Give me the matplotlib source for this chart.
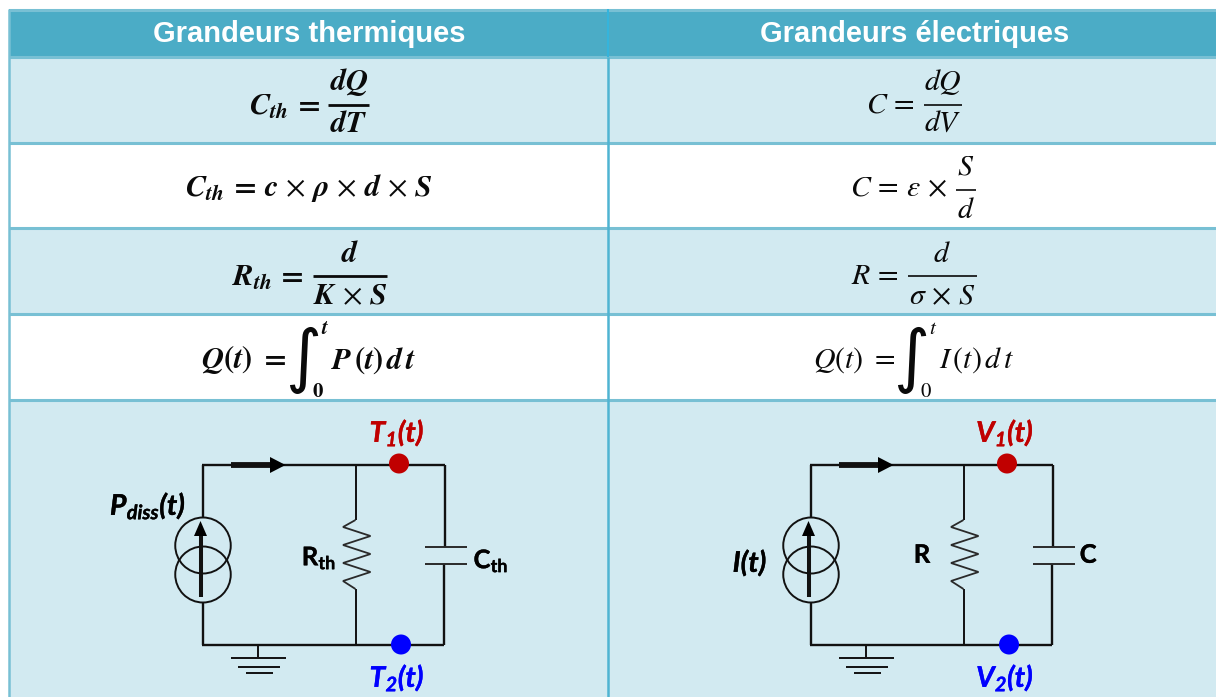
import matplotlib
matplotlib.use("Agg")
import matplotlib.pyplot as plt
import matplotlib.patheffects as pe
from matplotlib.patches import Rectangle, Ellipse, Polygon

plt.rcParams['mathtext.fontset'] = 'custom'
plt.rcParams['mathtext.bf'] = 'Lato:bold'
plt.rcParams['mathtext.bfit'] = 'Lato:italic:bold'
plt.rcParams['mathtext.it'] = 'Lato:italic:bold'
plt.rcParams['mathtext.rm'] = 'Lato:bold'

headers = ["Grandeurs thermiques", "Grandeurs électriques"]
# formula pieces: text, centre x, centre y
thermal_pieces = [
    (r"$\mathbfit{C_{th}}\,\mathbf{=}$", 284, 107),
    (r"$\mathbfit{dQ}$", 349, 82), (r"$\mathbfit{dT}$", 349, 123),
    (r"$\mathbfit{C_{th}}\,\mathbf{=}\,\mathbfit{c}\,\times\,\mathbfit{\rho}\,\times\,\mathbfit{d}\,\times\,\mathbfit{S}$", 309, 188),
    (r"$\mathbfit{R_{th}}\,\mathbf{=}$", 268, 278),
    (r"$\mathbfit{d}$", 350, 253), (r"$\mathbfit{K}\,\times\,\mathbfit{S}$", 350, 296),
    (r"$\mathbfit{Q}\mathbf{(}\mathbfit{t}\mathbf{)}\ \mathbf{=}$", 244, 360),
    (r"$\mathbfit{P}\,\mathbf{(}\mathbfit{t}\mathbf{)}\,\mathbfit{d}\,\mathbfit{t}$", 374, 360),
]
electric_pieces = [
    (r"$C\,=$", 890, 104),
    (r"$dQ$", 943, 82), (r"$dV$", 943, 122),
    (r"$C\,=\,\varepsilon\,\times$", 899, 188),
    (r"$S$", 966, 166), (r"$d$", 966, 210),
    (r"$R\,=$", 875, 276),
    (r"$d$", 942, 253), (r"$\sigma\,\times\,S$", 942, 296),
    (r"$Q(t)\ =$", 854, 360),
    (r"$I\,(t)\,d\,t$", 976, 360),
]
limit_pieces = [
    (r"$\mathbfit{t}$", 325, 328), (r"$\mathbf{0}$", 318, 391),
    (r"$t$", 933, 328), (r"$0$", 926, 391),
]
fraction_bars = [(328, 369, 105, 2.0), (313, 387, 276, 2.0),
                 (924, 962, 104.5, 1.2), (956, 976, 190, 1.2), (908, 977, 276, 1.2)]
integral_x = [303, 911]
row_edges = [57, 143, 228, 314, 400, 697]
row_fills = ['#D2EAF1', '#FFFFFF', '#D2EAF1', '#FFFFFF', '#D2EAF1']
col_edges = [9, 608, 1216]
circuit_offsets = [0, 608]
top_labels = [r"$\mathbfit{T_{1}(t)}$", r"$\mathbfit{V_{1}(t)}$"]
bottom_labels = [r"$\mathbfit{T_{2}(t)}$", r"$\mathbfit{V_{2}(t)}$"]
source_labels = [(r"$\mathbfit{P_{diss}(t)}$", 148, 506), (r"$\mathbfit{I(t)}$", 750, 563)]
r_labels = [(r"$\mathbf{R_{th}}$", 319, 558), (r"$\mathbf{R}$", 923, 556)]
c_labels = [(r"$\mathbf{C_{th}}$", 491, 561), (r"$\mathbf{C}$", 1089, 556)]

HEADER = '#4BACC6'
BORDER = '#78C0D4'
INK = '#111111'

fig = plt.figure(figsize=(12.16, 6.97), dpi=100)
ax = fig.add_axes([0, 0, 1, 1])
ax.set_xlim(0, 1216)
ax.set_ylim(697, 0)
ax.axis('off')

# table
ax.add_patch(Rectangle((col_edges[0], 9), col_edges[-1] - col_edges[0], 48, fc=HEADER, ec='none'))
for top, bot, fill in zip(row_edges[:-1], row_edges[1:], row_fills):
    ax.add_patch(Rectangle((col_edges[0], top), col_edges[-1] - col_edges[0], bot - top, fc=fill, ec='none'))
for y in [10] + row_edges[:-1]:
    ax.plot([col_edges[0], col_edges[-1]], [y, y], color=BORDER, lw=2.2, solid_capstyle='butt')
ax.plot([col_edges[0]] * 2, [9, 697], color=BORDER, lw=1.8, solid_capstyle='butt')
ax.plot([col_edges[1]] * 2, [9, 57], color='#35B4DC', lw=1.5, solid_capstyle='butt')
ax.plot([col_edges[1]] * 2, [57, 697], color='#4FB4D2', lw=1.8, solid_capstyle='butt')

for cx, h in zip([309, 914.5], headers):
    ax.text(cx, 34.5, h, color='white', ha='center', va='center', fontsize=21,
            fontweight='bold', family='Liberation Sans')

for pieces, size in ((thermal_pieces, 22), (electric_pieces, 21.5), (limit_pieces, 15)):
    for s, x, y in pieces:
        ax.text(x, y, s, ha='center', va='center', fontsize=size, color='#0a0a0a', math_fontfamily='stix')
for x0, x1, y, lw in fraction_bars:
    ax.plot([x0, x1], [y, y], color='#0a0a0a', lw=lw, solid_capstyle='butt')
for x in integral_x:
    ax.text(x, 360, "\u222b", ha='center', va='center', fontsize=50, color='#0a0a0a', family='DejaVu Sans')

# circuits
def wire(xs, ys, off, lw=1.7, color=INK):
    ax.plot([x + off for x in xs], ys, color=color, lw=lw, solid_capstyle='butt', solid_joinstyle='miter')

for i, off in enumerate(circuit_offsets):
    wire([203, 203], [465, 517], off)
    wire([203, 203], [603, 645], off)
    wire([202, 445], [465, 465], off)
    wire([202, 444], [645, 645], off)
    wire([355.5, 355.5], [465, 520], off, lw=1.4)
    wire([355.5, 355.5], [589, 645], off, lw=1.4)
    wire([355.5, 343, 370.5, 343, 370.5, 343, 370.5, 343, 355.5],
         [520, 527, 536, 545, 554, 563, 572, 581, 589], off, lw=1.3, color='#2a2a2a')
    wire([445, 445], [465, 547], off)
    wire([443.5, 443.5], [564, 645], off)
    wire([425, 466.5], [547, 547], off, lw=1.4, color='#2a2a2a')
    wire([425, 466.5], [564, 564], off, lw=1.4, color='#2a2a2a')
    wire([258, 258], [645, 657], off, lw=1.4)
    wire([231, 286], [657.5, 657.5], off, lw=1.4)
    wire([238, 280], [666.5, 666.5], off, lw=1.4)
    wire([246, 273], [672.5, 672.5], off, lw=1.4)
    for cy in (545.5, 574.5):
        ax.add_patch(Ellipse((203 + off, cy), 55.5, 56, fc='none', ec=INK, lw=1.4, zorder=3))
    wire([200.5, 200.5], [597, 533], off, lw=2.9)
    ax.add_patch(Polygon([(194 + off, 536), (207 + off, 536), (200.5 + off, 521)], fc='black', ec='none', zorder=4))
    wire([231, 271], [465, 465], off, lw=4.2)
    ax.add_patch(Polygon([(270 + off, 457), (270 + off, 473), (285.5 + off, 465)], fc='black', ec='none', zorder=4))
    ax.add_patch(Ellipse((399 + off, 463.5), 20, 20, fc='#C00000', ec='none', zorder=5))
    ax.add_patch(Ellipse((401 + off, 644.5), 20, 20, fc='#0000FF', ec='none', zorder=5))
    lx = 397 + off
    for s, y, c in ((top_labels[i], 433, '#C00000'), (bottom_labels[i], 678, '#0000FF')):
        t = ax.text(lx, y, s, color=c, ha='center', va='center', fontsize=20.5, math_fontfamily='custom')
        t.set_path_effects([pe.withStroke(linewidth=0.25, foreground=c)])

for group, size in ((source_labels, 20.5), (r_labels, 18.4), (c_labels, 18.4)):
    for s, x, y in group:
        t = ax.text(x, y, s, color='black', ha='center', va='center', fontsize=size, math_fontfamily='custom')
        t.set_path_effects([pe.withStroke(linewidth=0.25, foreground='black')])

fig.savefig("out.png", dpi=100)
